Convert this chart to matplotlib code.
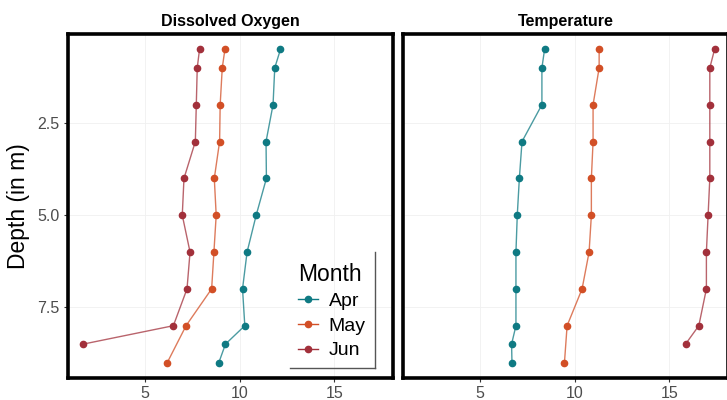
import matplotlib.pyplot as plt
from matplotlib.lines import Line2D

plt.rcParams['font.family'] = ['Liberation Sans', 'DejaVu Sans']

## depth profiles (m)
depth_full = [0.5, 1, 2, 3, 4, 5, 6, 7, 8, 8.5, 9]
depth_may = [0.5, 1, 2, 3, 4, 5, 6, 7, 8, 9]
depth_jun = [0.5, 1, 2, 3, 4, 5, 6, 7, 8, 8.5]

## dissolved oxygen
do_apr = [12.16, 11.86, 11.77, 11.4, 11.42, 10.88, 10.4, 10.16, 10.28, 9.26, 8.91]
do_may = [9.23, 9.09, 8.98, 8.95, 8.67, 8.77, 8.65, 8.53, 7.18, 6.19]
do_jun = [7.89, 7.77, 7.72, 7.67, 7.07, 6.98, 7.39, 7.23, 6.51, 1.75]

## temperature
t_apr = [8.42, 8.28, 8.28, 7.23, 7.09, 6.98, 6.91, 6.91, 6.91, 6.68, 6.70]
t_may = [11.30, 11.30, 10.98, 10.98, 10.89, 10.89, 10.77, 10.40, 9.61, 9.47]
t_jun = [17.39, 17.14, 17.14, 17.14, 17.14, 17.05, 16.96, 16.96, 16.56, 15.86]

months = ['Apr', 'May', 'Jun']
colors = ['#0f7a83', '#d24f26', '#a2303b']

W, H = 727, 400
fig = plt.figure(figsize=(7.27, 4.0), dpi=100)

def px_ax(x0, y0, x1, y1):
    return fig.add_axes([x0 / W, 1 - y1 / H, (x1 - x0) / W, (y1 - y0) / H])

ax1 = px_ax(68, 34, 393, 378)
ax2 = px_ax(403, 34, 728, 378)

panels = [
    (ax1, 'Dissolved Oxygen', [(do_apr, depth_full), (do_may, depth_may), (do_jun, depth_jun)]),
    (ax2, 'Temperature', [(t_apr, depth_full), (t_may, depth_may), (t_jun, depth_jun)]),
]

for ax, title, series in panels:
    for (vals, dep), c in zip(series, colors):
        ax.plot(vals, dep, '-', color=c, lw=1.0, alpha=0.75, zorder=3)
        ax.plot(vals, dep, 'o', color=c, ms=4.5, mec=c, zorder=4)
    ax.set_xlim(0.95, 18.1)
    ax.set_ylim(9.42, 0.08)
    ax.set_xticks([5, 10, 15])
    ax.set_yticks([2.5, 5.0, 7.5])
    ax.set_yticklabels(['2.5', '5.0', '7.5'])
    ax.grid(True, color='#f0f0f0', lw=0.6, zorder=0)
    ax.set_axisbelow(True)
    for s in ax.spines.values():
        s.set_linewidth(2.6)
        s.set_color('black')
    ax.tick_params(length=3, width=0.8, color='#333333', labelcolor='#4d4d4d',
                   labelsize=11.5, pad=3)
    ax.set_title(title, fontsize=11.5, fontweight='bold', pad=6)

ax2.tick_params(axis='y', labelleft=False, length=0)
ax1.set_ylabel('Depth (in m)', fontsize=16.5, labelpad=5)

handles = [Line2D([0], [0], color=c, lw=1.0, marker='o', ms=4.5) for c in colors]
leg = ax1.legend(handles, months, title='Month', loc='center',
                 bbox_to_anchor=(332 / W, 1 - 311 / H), bbox_transform=fig.transFigure,
                 frameon=False, fontsize=14, title_fontsize=16.5,
                 handlelength=1.0, handletextpad=0.55, labelspacing=0.36,
                 borderaxespad=0)
leg._legend_box.align = 'left'

## legend edge lines (right and bottom only)
fig.add_artist(Line2D([375 / W, 375 / W], [1 - 252 / H, 1 - 368 / H], color='#555555', lw=1.0))
fig.add_artist(Line2D([290 / W, 375 / W], [1 - 368 / H, 1 - 368 / H], color='#555555', lw=1.0))

fig.savefig('out.png', dpi=100)
